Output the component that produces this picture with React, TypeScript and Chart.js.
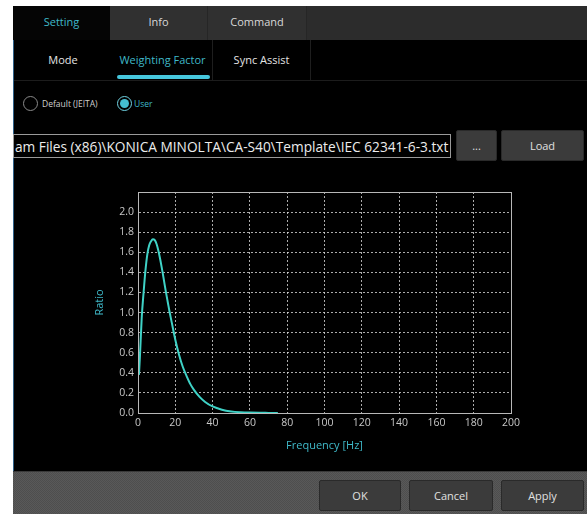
import React, { useEffect, useRef } from "react";
import { Chart, registerables } from "chart.js";

Chart.register(...registerables);

// Weighting factor curve (IEC 62341-6-3 template)
const frequencyHz = [0.5, 1, 2, 3, 4, 5, 6, 7, 8, 9, 10, 11, 12, 13, 14, 15, 16, 17, 18, 20, 22, 24, 26, 28, 30, 33, 36, 40, 45, 50, 55, 60, 65, 70, 75];
const ratioValues = [0.38, 0.55, 0.95, 1.2, 1.42, 1.58, 1.67, 1.71, 1.73, 1.72, 1.68, 1.61, 1.52, 1.42, 1.31, 1.2, 1.1, 1.0, 0.91, 0.73, 0.58, 0.46, 0.37, 0.29, 0.23, 0.16, 0.11, 0.065, 0.033, 0.016, 0.008, 0.004, 0.002, 0.001, 0.0];

const xMin = 0;
const xMax = 200;
const xStep = 20;
const yMin = 0;
const yMax = 2.2;
const yStep = 0.2;
const yLabelMax = 2.0;

const xTitle = "Frequency [Hz]";
const yTitle = "Ratio";

const topTabs = ["Setting", "Info", "Command"];
const subTabs = ["Mode", "Weighting Factor", "Sync Assist"];
const pathText = "am Files (x86)\\KONICA MINOLTA\\CA-S40\\Template\\IEC 62341-6-3.txt";

const FONT = "'Open Sans', 'Noto Sans', sans-serif";
const TEAL = "#3fb9c9";

const frameBorder = {
  id: "frameBorder",
  afterDraw(chart: any) {
    const { ctx, chartArea } = chart;
    ctx.save();
    ctx.strokeStyle = "#b8b8b8";
    ctx.lineWidth = 1;
    ctx.setLineDash([]);
    ctx.strokeRect(
      Math.round(chartArea.left) + 0.5,
      Math.round(chartArea.top) + 0.5,
      Math.round(chartArea.right - chartArea.left),
      Math.round(chartArea.bottom - chartArea.top)
    );
    ctx.restore();
  },
};

function WeightChart() {
  const ref = useRef<HTMLCanvasElement | null>(null);
  useEffect(() => {
    if (!ref.current) return;
    const points = frequencyHz.map((f, i) => ({ x: f, y: ratioValues[i] }));
    const chart = new Chart(ref.current, {
      type: "line",
      data: {
        datasets: [
          {
            data: points,
            borderColor: "#3fd2c6",
            borderWidth: 2,
            pointRadius: 0,
            cubicInterpolationMode: "monotone",
            fill: false,
          },
        ],
      },
      options: {
        animation: false,
        responsive: false,
        maintainAspectRatio: false,
        layout: { padding: { top: 12, right: 29, left: 0, bottom: 0 } },
        plugins: { legend: { display: false }, tooltip: { enabled: false } },
        scales: {
          x: {
            type: "linear",
            min: xMin,
            max: xMax,
            afterFit: (s: any) => {
              s.height = 47;
            },
            ticks: {
              stepSize: xStep,
              color: "#c8c8c8",
              font: { family: FONT, size: 10.5 },
              padding: 4,
              maxRotation: 0,
            },
            grid: { color: "rgba(215,215,215,0.8)", drawTicks: false, lineWidth: 1 },
            border: { display: true, color: "#b8b8b8", dash: [2, 2] },
            title: {
              display: true,
              text: xTitle,
              color: TEAL,
              font: { family: FONT, size: 11 },
              padding: { top: 0, bottom: 8 },
            },
          },
          y: {
            type: "linear",
            min: yMin,
            max: yMax,
            afterFit: (s: any) => {
              s.width = 58;
            },
            ticks: {
              stepSize: yStep,
              color: "#c8c8c8",
              font: { family: FONT, size: 10.5 },
              padding: 4,
              callback: (v: any) => (Number(v) > yLabelMax + 0.01 ? "" : Number(v).toFixed(1)),
            },
            grid: { color: "rgba(215,215,215,0.8)", drawTicks: false, lineWidth: 1 },
            border: { display: true, color: "#b8b8b8", dash: [2, 2] },
            title: {
              display: true,
              text: yTitle,
              color: TEAL,
              font: { family: FONT, size: 11 },
              padding: { top: 13, bottom: 0 },
            },
          },
        },
      },
      plugins: [frameBorder],
    } as any);
    return () => chart.destroy();
  }, []);
  return <canvas ref={ref} width={460} height={280} style={{ position: "absolute", left: 80, top: 180, width: 460, height: 280 }} />;
}

const abs = (l: number, t: number, w: number, h: number): React.CSSProperties => ({
  position: "absolute",
  left: l,
  top: t,
  width: w,
  height: h,
  boxSizing: "border-box",
});

export default function App() {
  const tabX = [13, 110, 208];
  const tabW = [97, 98, 99];
  const subX = [13, 113, 213];
  const subW = [100, 100, 98];
  const btn: React.CSSProperties = {
    background: "#3b3b3b",
    border: "1px solid #2a2a2a",
    borderRadius: 2,
    color: "#e0e0e0",
    fontFamily: FONT,
    fontSize: 11,
    display: "flex",
    alignItems: "center",
    justifyContent: "center",
  };
  return (
    <div style={{ position: "fixed", left: 0, top: 0, width: 587, height: 514, background: "#fff", overflow: "hidden", fontFamily: FONT }}>
      {/* main dark panel */}
      <div style={{ ...abs(13, 6, 574, 508), background: "#000", borderLeft: "1px solid #2f6088" }} />
      {/* top tab row */}
      <div style={{ ...abs(307, 6, 280, 34), background: "#2c2c2c" }} />
      {topTabs.map((t, i) => (
        <div
          key={t}
          style={{
            ...abs(tabX[i], 6, tabW[i], 34),
            background: i === 0 ? "#050505" : "#303030",
            borderRight: i > 0 ? "1px solid #262626" : "none",
            color: i === 0 ? TEAL : "#d8d8d8",
            fontSize: 11,
            display: "flex",
            alignItems: "center",
            justifyContent: "center",
            paddingBottom: 4,
          }}
        >
          {t}
        </div>
      ))}
      {/* sub tabs */}
      {subTabs.map((t, i) => (
        <div
          key={t}
          style={{
            ...abs(subX[i], 40, subW[i], 40),
            borderRight: i > 0 ? "1px solid #1e1e1e" : "none",
            color: i === 1 ? TEAL : "#e4e4e4",
            fontSize: 11,
            display: "flex",
            alignItems: "center",
            justifyContent: "center",
            paddingBottom: 2,
          }}
        >
          {t}
        </div>
      ))}
      <div style={{ ...abs(117, 75, 93, 4), background: "#45c6dc", borderRadius: 2 }} />
      <div style={{ ...abs(14, 80, 573, 1), background: "#1c1c1c" }} />
      {/* radio buttons */}
      <div style={{ ...abs(23, 96, 15, 15), borderRadius: "50%", border: "1px solid #8a8a8a" }} />
      <div style={{ ...abs(42, 96, 70, 15), color: "#cfcfcf", fontSize: 8.5, display: "flex", alignItems: "center" }}>Default (JEITA)</div>
      <div style={{ ...abs(117, 96, 15, 15), borderRadius: "50%", border: "1px solid #6fd0e0", display: "flex", alignItems: "center", justifyContent: "center" }}>
        <div style={{ width: 9, height: 9, borderRadius: "50%", background: "#45bfd2" }} />
      </div>
      <div style={{ ...abs(134, 96, 30, 15), color: TEAL, fontSize: 8.5, display: "flex", alignItems: "center" }}>User</div>
      {/* path box */}
      <div
        style={{
          ...abs(13, 134, 438, 24),
          border: "1px solid #9a9a9a",
          color: "#ececec",
          fontSize: 13.7,
          display: "flex",
          alignItems: "center",
          whiteSpace: "nowrap",
          overflow: "hidden",
          paddingLeft: 1,
        }}
      >
        {pathText}
      </div>
      <div style={{ ...abs(456, 130, 41, 31), ...btn }}>...</div>
      <div style={{ ...abs(501, 130, 83, 31), ...btn }}>Load</div>
      {/* chart */}
      <WeightChart />
      {/* bottom bar */}
      <div
        style={{
          ...abs(13, 471, 574, 43),
          backgroundColor: "#545454",
          backgroundImage: "conic-gradient(#4e4e4e 25%, #595959 0 50%, #4e4e4e 0 75%, #595959 0)",
          backgroundSize: "2px 2px",
          borderTop: "1px solid #3a3a3a",
        }}
      />
      <div style={{ ...abs(319, 480, 82, 31), ...btn }}>OK</div>
      <div style={{ ...abs(409, 480, 84, 31), ...btn }}>Cancel</div>
      <div style={{ ...abs(501, 480, 83, 31), ...btn }}>Apply</div>
    </div>
  );
}
